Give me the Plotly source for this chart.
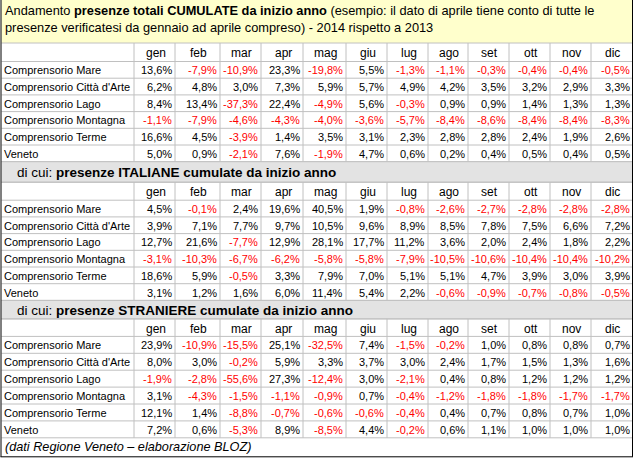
import plotly.graph_objects as go

# Dati: variazione % presenze cumulate da inizio anno, 2014 rispetto a 2013
mesi = ["gen", "feb", "mar", "apr", "mag", "giu", "lug", "ago", "set", "ott", "nov", "dic"]
zone = ["Comprensorio Mare", "Comprensorio Città d'Arte", "Comprensorio Lago",
        "Comprensorio Montagna", "Comprensorio Terme", "Veneto"]

totali = [
    [13.6, -7.9, -10.9, 23.3, -19.8, 5.5, -1.3, -1.1, -0.3, -0.4, -0.4, -0.5],
    [6.2, 4.8, 3.0, 7.3, 5.9, 5.7, 4.9, 4.2, 3.5, 3.2, 2.9, 3.3],
    [8.4, 13.4, -37.3, 22.4, -4.9, 5.6, -0.3, 0.9, 0.9, 1.4, 1.3, 1.3],
    [-1.1, -7.9, -4.6, -4.3, -4.0, -3.6, -5.7, -8.4, -8.6, -8.4, -8.4, -8.3],
    [16.6, 4.5, -3.9, 1.4, 3.5, 3.1, 2.3, 2.8, 2.8, 2.4, 1.9, 2.6],
    [5.0, 0.9, -2.1, 7.6, -1.9, 4.7, 0.6, 0.2, 0.4, 0.5, 0.4, 0.5],
]

italiane = [
    [4.5, -0.1, 2.4, 19.6, 40.5, 1.9, -0.8, -2.6, -2.7, -2.8, -2.8, -2.8],
    [3.9, 7.1, 7.7, 9.7, 10.5, 9.6, 8.9, 8.5, 7.8, 7.5, 6.6, 7.2],
    [12.7, 21.6, -7.7, 12.9, 28.1, 17.7, 11.2, 3.6, 2.0, 2.4, 1.8, 2.2],
    [-3.1, -10.3, -6.7, -6.2, -5.8, -5.8, -7.9, -10.5, -10.6, -10.4, -10.4, -10.2],
    [18.6, 5.9, -0.5, 3.3, 7.9, 7.0, 5.1, 5.1, 4.7, 3.9, 3.0, 3.9],
    [3.1, 1.2, 1.6, 6.0, 11.4, 5.4, 2.2, -0.6, -0.9, -0.7, -0.8, -0.5],
]

straniere = [
    [23.9, -10.9, -15.5, 25.1, -32.5, 7.4, -1.5, -0.2, 1.0, 0.8, 0.8, 0.7],
    [8.0, 3.0, -0.2, 5.9, 3.3, 3.7, 3.0, 2.4, 1.7, 1.5, 1.3, 1.6],
    [-1.9, -2.8, -55.6, 27.3, -12.4, 3.0, -2.1, 0.4, 0.8, 1.2, 1.2, 1.2],
    [3.1, -4.3, -1.5, -1.1, -0.9, 0.7, -0.4, -1.2, -1.8, -1.8, -1.7, -1.7],
    [12.1, 1.4, -8.8, -0.7, -0.6, -0.6, -0.4, 0.4, 0.7, 0.8, 0.7, 1.0],
    [7.2, 0.6, -5.3, 8.9, -8.5, 4.4, -0.2, 0.6, 1.1, 1.0, 1.0, 1.0],
]

titolo_1 = "Andamento <b>presenze totali CUMULATE da inizio anno</b> (esempio: il dato di aprile tiene conto di tutte le"
titolo_2 = "presenze verificatesi da gennaio ad aprile compreso) - 2014 rispetto a 2013"
sezioni = ["di cui: <b>presenze ITALIANE cumulate da inizio anno</b>",
           "di cui: <b>presenze STRANIERE cumulate da inizio anno</b>"]
nota = "<i>(dati Regione Veneto – elaborazione BLOZ)</i>"

# Geometria del foglio (pixel)
W, H = 634, 460
X_LEFT, X_RIGHT = 1.5, 632.5
label_w = 132.5
col_w = [41, 45, 41, 42, 43, 41, 41, 40, 41, 41, 41, 41.5]
edges = [X_LEFT, X_LEFT + label_w]
for w in col_w:
    edges.append(edges[-1] + w)

TITLE_H = 43
HDR_H = [18.5, 18, 17.5]
ROW_H = [16.7, 16.7, 16.9]
BAND_H = [20.5, 18.5]
FOOT_H = 19

YELLOW = "#FFFFCC"
BAND = "#E3E3E3"
GRID = "#C0C0C0"
FONT = "Liberation Sans"

shapes = []
ann = []


def fmt(v):
    return ("%.1f%%" % v).replace(".", ",")


def hline(y, x0=X_LEFT, x1=X_RIGHT, color=GRID, w=1):
    shapes.append(dict(type="line", x0=x0, x1=x1, y0=y, y1=y, line=dict(color=color, width=w)))


def vline(x, y0, y1, color=GRID, w=1):
    shapes.append(dict(type="line", x0=x, x1=x, y0=y0, y1=y1, line=dict(color=color, width=w)))


# intestazione gialla
shapes.append(dict(type="rect", x0=X_LEFT, x1=X_RIGHT, y0=0, y1=TITLE_H,
                   fillcolor=YELLOW, line=dict(width=0)))
ann.append(dict(x=3, y=10, text=titolo_1, xanchor="left", yanchor="middle",
                font=dict(family=FONT, size=12.8, color="black")))
ann.append(dict(x=3, y=27, text=titolo_2, xanchor="left", yanchor="middle",
                font=dict(family=FONT, size=12.8, color="black")))


def tabella(y_top, k, dati):
    hh, rh = HDR_H[k], ROW_H[k]
    y_bottom = y_top + hh + rh * len(zone)
    # intestazione mesi
    hline(y_top)
    for j, m in enumerate(mesi):
        ann.append(dict(x=(edges[j + 1] + edges[j + 2]) / 2 + 1, y=y_top + hh / 2 + 1,
                        text=m, xanchor="center", yanchor="middle",
                        font=dict(family=FONT, size=12, color="black")))
    for i, z in enumerate(zone):
        y0 = y_top + hh + rh * i
        hline(y0)
        yc = y0 + rh / 2 + 0.5
        ann.append(dict(x=2, y=yc, text=z, xanchor="left", yanchor="middle",
                        font=dict(family=FONT, size=11, color="black")))
        for j, v in enumerate(dati[i]):
            ann.append(dict(x=edges[j + 2] - 1, y=yc, text=fmt(v),
                            xanchor="right", yanchor="middle",
                            font=dict(family=FONT, size=11,
                                      color="#FF0000" if v < 0 else "black")))
    hline(y_bottom)
    for x in edges[1:-1]:
        vline(x, y_top, y_bottom)
    return y_bottom


y = TITLE_H
for k, dati in enumerate([totali, italiane, straniere]):
    y = tabella(y, k, dati)
    if k < 2:
        bh = BAND_H[k]
        shapes.append(dict(type="rect", x0=X_LEFT, x1=X_RIGHT, y0=y, y1=y + bh,
                           fillcolor=BAND, line=dict(width=0)))
        hline(y)
        ann.append(dict(x=15, y=y + bh / 2 + 0.5, text=sezioni[k], xanchor="left",
                        yanchor="middle", font=dict(family=FONT, size=13.5, color="black")))
        y += bh
        hline(y)

ann.append(dict(x=3, y=y + FOOT_H / 2, text=nota, xanchor="left", yanchor="middle",
                font=dict(family=FONT, size=12.7, color="black")))
y_end = y + FOOT_H

# bordo esterno nero
vline(X_LEFT - 0.5, 0, y_end, color="black")
vline(X_RIGHT, 0, y_end, color="black")
hline(y_end, X_LEFT - 1, X_RIGHT + 0.5, color="black")

fig = go.Figure()
fig.update_layout(
    width=W, height=H,
    margin=dict(l=0, r=0, t=0, b=0),
    paper_bgcolor="white", plot_bgcolor="white",
    xaxis=dict(range=[0, W], visible=False, fixedrange=True),
    yaxis=dict(range=[H, 0], visible=False, fixedrange=True),
    shapes=shapes,
    annotations=[dict(a, showarrow=False, xref="x", yref="y") for a in ann],
    showlegend=False,
)
# il margine di default della pagina sposterebbe il foglio di 8px
fig.write_html("out.html", config={"staticPlot": True},
               post_script="document.body.style.margin='0';document.body.style.overflow='hidden';")
